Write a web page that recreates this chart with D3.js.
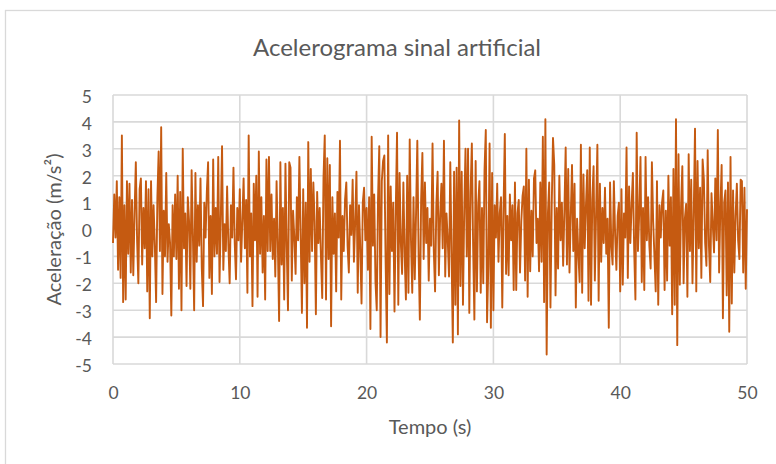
<!DOCTYPE html>
<html>
<head>
<meta charset="utf-8">
<script src="https://cdn.jsdelivr.net/npm/d3@7"></script>
<style>
  html, body { margin: 0; padding: 0; background: #fff; }
  svg text { font-family: Lato, "Open Sans", sans-serif; fill: #595959; }
</style>
</head>
<body>
<div id="chart"></div>
<script>
// sinal, passo de 0,1 s
const DT = 0.1;
const acel0a10 = [
  -0.5, 1.3, -0.3, 1.8, -1.5, 1.2, -1.8, 3.5, -2.7, 0.9,
  -2.6, 1.8, -0.9, 1.7, -1.6, 1.1, -1.7, 0.6, 2.5, -0.4,
  -2.0, 1.5, 1.9, -1.3, 0.8, -0.7, 1.8, -2.3, 1.5, -3.3,
  1.8, -1.0, 0.9, -0.6, -2.7, 1.2, 2.9, -0.8, 3.8, -2.4,
  0.7, -1.0, 2.1, -1.2, 0.2, -0.5, -3.2, 0.9, -1.0, 1.3,
  -1.1, 2.0, -2.2, 1.4, -3.0, 3.0, -0.7, 0.6, -2.1, 1.2,
  0.3, -2.2, 2.2, -0.2, -3.0, 2.1, -1.2, 0.9, -0.6, 1.9,
  -1.4, -2.85, 1.0, -0.3, 1.4, 2.5, -1.8, 0.5, -2.4, 2.6,
  -1.0, 0.8, -0.9, 2.7, -1.95, 0.4, 3.1, -1.5, 0.2, -0.8,
  1.6, -0.6, -2.0, 0.9, -0.3, 2.3, -0.5, -1.85, 0.8, -0.4
];
const acel10a20 = [
  1.5, -1.2, 0.3, 1.9, -0.7, 1.1, -2.35, 3.5, -1.0, 0.6,
  -2.85, 1.7, -0.4, 2.0, -2.5, 2.9, -0.9, 1.2, -1.6, 0.5,
  -2.6, 2.6, -0.8, 2.7, -0.8, 1.3, -1.1, 0.4, -1.75, 1.8,
  -0.5, -3.4, 2.5, -1.3, 0.8, -2.6, 2.45, -0.6, -3.0, 2.5,
  2.3, -1.9, 0.7, -0.3, -1.65, 1.2, -0.4, 2.7, -0.2, -3.1,
  1.5, -2.0, 1.0, -3.65, 3.25, -1.2, 2.25, -0.8, 1.75, 0.3,
  -3.15, 1.4, -0.5, 0.8, -1.0, -2.55, 1.9, 3.5, -2.6, 2.65,
  -1.1, 2.4, -3.6, 1.2, -0.9, 0.6, -2.3, 1.4, -0.3, 3.3,
  -2.6, 0.5, -0.8, 1.1, 1.75, -0.6, -1.6, 0.9, -0.2, 1.85,
  -1.2, 0.3, 2.15, -2.35, 0.9, -0.7, -2.75, 1.0, 1.55, -0.4
];
const acel20a30 = [
  0.8, -1.5, 1.2, -3.7, 3.45, -0.6, 1.3, -1.95, -3.0, 1.1,
  3.1, -4.0, 1.8, 2.55, 2.75, -1.2, -4.2, 3.5, -2.4, 1.6,
  -0.8, 1.0, -3.05, 0.7, 3.6, -2.8, 2.1, -0.5, -1.65, 1.75,
  -0.9, -2.6, 2.0, -2.35, 3.35, -0.4, -2.35, 1.2, -1.85, 0.6,
  3.3, -0.9, -3.35, 1.1, 2.85, -1.1, 1.75, -0.5, 0.8, -1.9,
  0.4, -0.6, 3.2, -0.8, -2.3, 0.9, 2.15, -1.7, 0.5, 1.7,
  -0.7, 3.3, -1.75, 0.6, -0.4, -1.75, 2.5, -0.9, -4.2, 2.15,
  -2.8, 2.3, -3.9, 4.05, -2.1, 2.15, -2.8, 0.7, 3.0, -1.0,
  3.0, -3.1, 1.4, 3.2, -0.6, -3.35, 2.55, -2.3, 0.9, 1.8,
  -2.35, 0.8, -2.0, 2.2, 3.7, -3.45, -1.35, 3.2, -3.65, 2.1
];
const acel30a40 = [
  -3.0, 0.9, -0.3, 1.7, -1.2, 0.6, 1.2, -2.9, 0.8, 3.55,
  -1.65, 0.5, -1.7, 1.3, -0.4, 0.9, -2.25, 1.75, -2.25, 0.6,
  1.1, -1.6, 0.3, 1.25, 1.6, -1.9, 3.0, -2.5, 1.85, -1.55,
  0.7, -1.0, 1.9, 2.2, -0.5, 0.4, -1.55, 1.75, -1.2, 3.45,
  -2.7, 4.1, -4.65, 0.6, 1.75, -2.9, 0.9, 3.4, 2.4, -2.45,
  0.8, -1.45, 2.0, -0.4, 1.0, -1.35, 0.7, 3.05, -1.3, 2.25,
  -1.6, 0.5, 2.4, -0.8, 1.7, -2.9, 0.4, -0.9, -1.95, 3.15,
  -2.35, 2.05, -0.7, 0.9, 2.2, -2.65, 3.05, -2.8, 1.1, 2.35,
  -1.9, 0.6, 3.15, -2.65, 1.7, -1.2, 0.8, -0.5, 1.55, -0.9,
  0.4, -3.65, 1.75, -0.6, -1.3, 1.8, -0.2, -1.5, 0.5, 1.0
];
const acel40a50 = [
  -2.3, 1.5, -2.05, 0.6, -0.3, 3.05, -1.8, 1.6, -0.5, 0.9,
  2.1, -0.7, -2.6, 3.6, -0.8, 0.6, 2.7, -1.95, 0.8, -2.25,
  2.7, -0.4, 1.2, -0.6, -1.45, 2.5, 0.3, -1.0, -2.3, 1.8,
  -2.8, 0.9, -0.3, 1.0, 1.45, -2.25, 0.7, -1.9, 2.0, -0.6,
  1.2, -3.15, 2.25, -2.8, 4.1, -4.3, 2.8, -2.05, 0.9, 2.35,
  -2.0, 0.4, 0.95, -2.5, 2.8, -0.8, 1.85, -2.0, 0.6, 3.75,
  -2.3, 2.55, -0.7, 1.55, -1.8, 2.6, 1.85, -0.5, -1.35, 2.95,
  -0.6, -1.95, 1.35, 0.2, -0.85, 1.9, -0.4, 3.7, -1.6, 0.8,
  2.4, -3.3, 1.0, 1.45, -2.45, 1.75, -3.8, 2.7, -2.75, 1.45,
  -1.6, 0.5, 1.7, -0.4, -1.1, 1.85, 1.8, -1.6, 1.55, -2.2,
  0.75
];
const xTicks = [0, 10, 20, 30, 40, 50];
const yTicks = [-5, -4, -3, -2, -1, 0, 1, 2, 3, 4, 5];

const titulo = "Acelerograma sinal artificial";
const tituloX = "Tempo (s)";
const tituloY = "Aceleração (m/s²)";

const W = 776, H = 464;
const plot = { left: 113, right: 747, top: 95, bottom: 364 };

const serie = [].concat(acel0a10, acel10a20, acel20a30, acel30a40, acel40a50)
  .map((v, i) => ({ t: i * DT, a: v }));

const svg = d3.select("#chart").append("svg")
  .attr("width", W).attr("height", H);

// moldura do gráfico
svg.append("rect")
  .attr("x", 5.5).attr("y", 10.5)
  .attr("width", W + 10).attr("height", H + 10)
  .attr("fill", "#fff").attr("stroke", "#d9d9d9").attr("stroke-width", 1.3);

const x = d3.scaleLinear().domain([0, 50]).range([plot.left, plot.right]);
const y = d3.scaleLinear().domain([-5, 5]).range([plot.bottom, plot.top]);

// grade
svg.append("g").selectAll("line")
  .data(yTicks).enter().append("line")
  .attr("x1", x(0)).attr("x2", x(50))
  .attr("y1", d => y(d)).attr("y2", d => y(d))
  .attr("stroke", "#d9d9d9").attr("stroke-width", 1.6);

svg.append("g").selectAll("line")
  .data(xTicks).enter().append("line")
  .attr("x1", d => x(d)).attr("x2", d => x(d))
  .attr("y1", y(5)).attr("y2", y(-5))
  .attr("stroke", "#d9d9d9").attr("stroke-width", 1.6);

// eixos (só rótulos, hífen como no Excel)
const fmt = d => String(d);

const eixoX = svg.append("g")
  .attr("transform", `translate(0,${y(-5)})`)
  .call(d3.axisBottom(x).tickValues(xTicks).tickSize(0).tickPadding(0).tickFormat(fmt));
eixoX.select(".domain").remove();
eixoX.selectAll("text").attr("font-size", 17.5).attr("dy", null).attr("y", 35);

const eixoY = svg.append("g")
  .attr("transform", `translate(92,0)`)
  .call(d3.axisLeft(y).tickValues(yTicks).tickSize(0).tickPadding(0).tickFormat(fmt));
eixoY.select(".domain").remove();
eixoY.selectAll("text").attr("font-size", 17.5).attr("dy", "0.42em");

// sinal
const linha = d3.line().x(d => x(d.t)).y(d => y(d.a));
svg.append("path")
  .datum(serie)
  .attr("d", linha)
  .attr("fill", "none")
  .attr("stroke", "#c55a11")
  .attr("stroke-width", 1.9)
  .attr("stroke-linejoin", "round");

// títulos
svg.append("text")
  .attr("x", 397).attr("y", 56)
  .attr("text-anchor", "middle")
  .attr("font-size", 24)
  .text(titulo);

svg.append("text")
  .attr("x", (x(0) + x(50)) / 2).attr("y", 434)
  .attr("text-anchor", "middle")
  .attr("font-size", 20)
  .text(tituloX);

svg.append("text")
  .attr("transform", `translate(61,${y(0)}) rotate(-90)`)
  .attr("text-anchor", "middle")
  .attr("font-size", 20)
  .text(tituloY);
</script>
</body>
</html>
